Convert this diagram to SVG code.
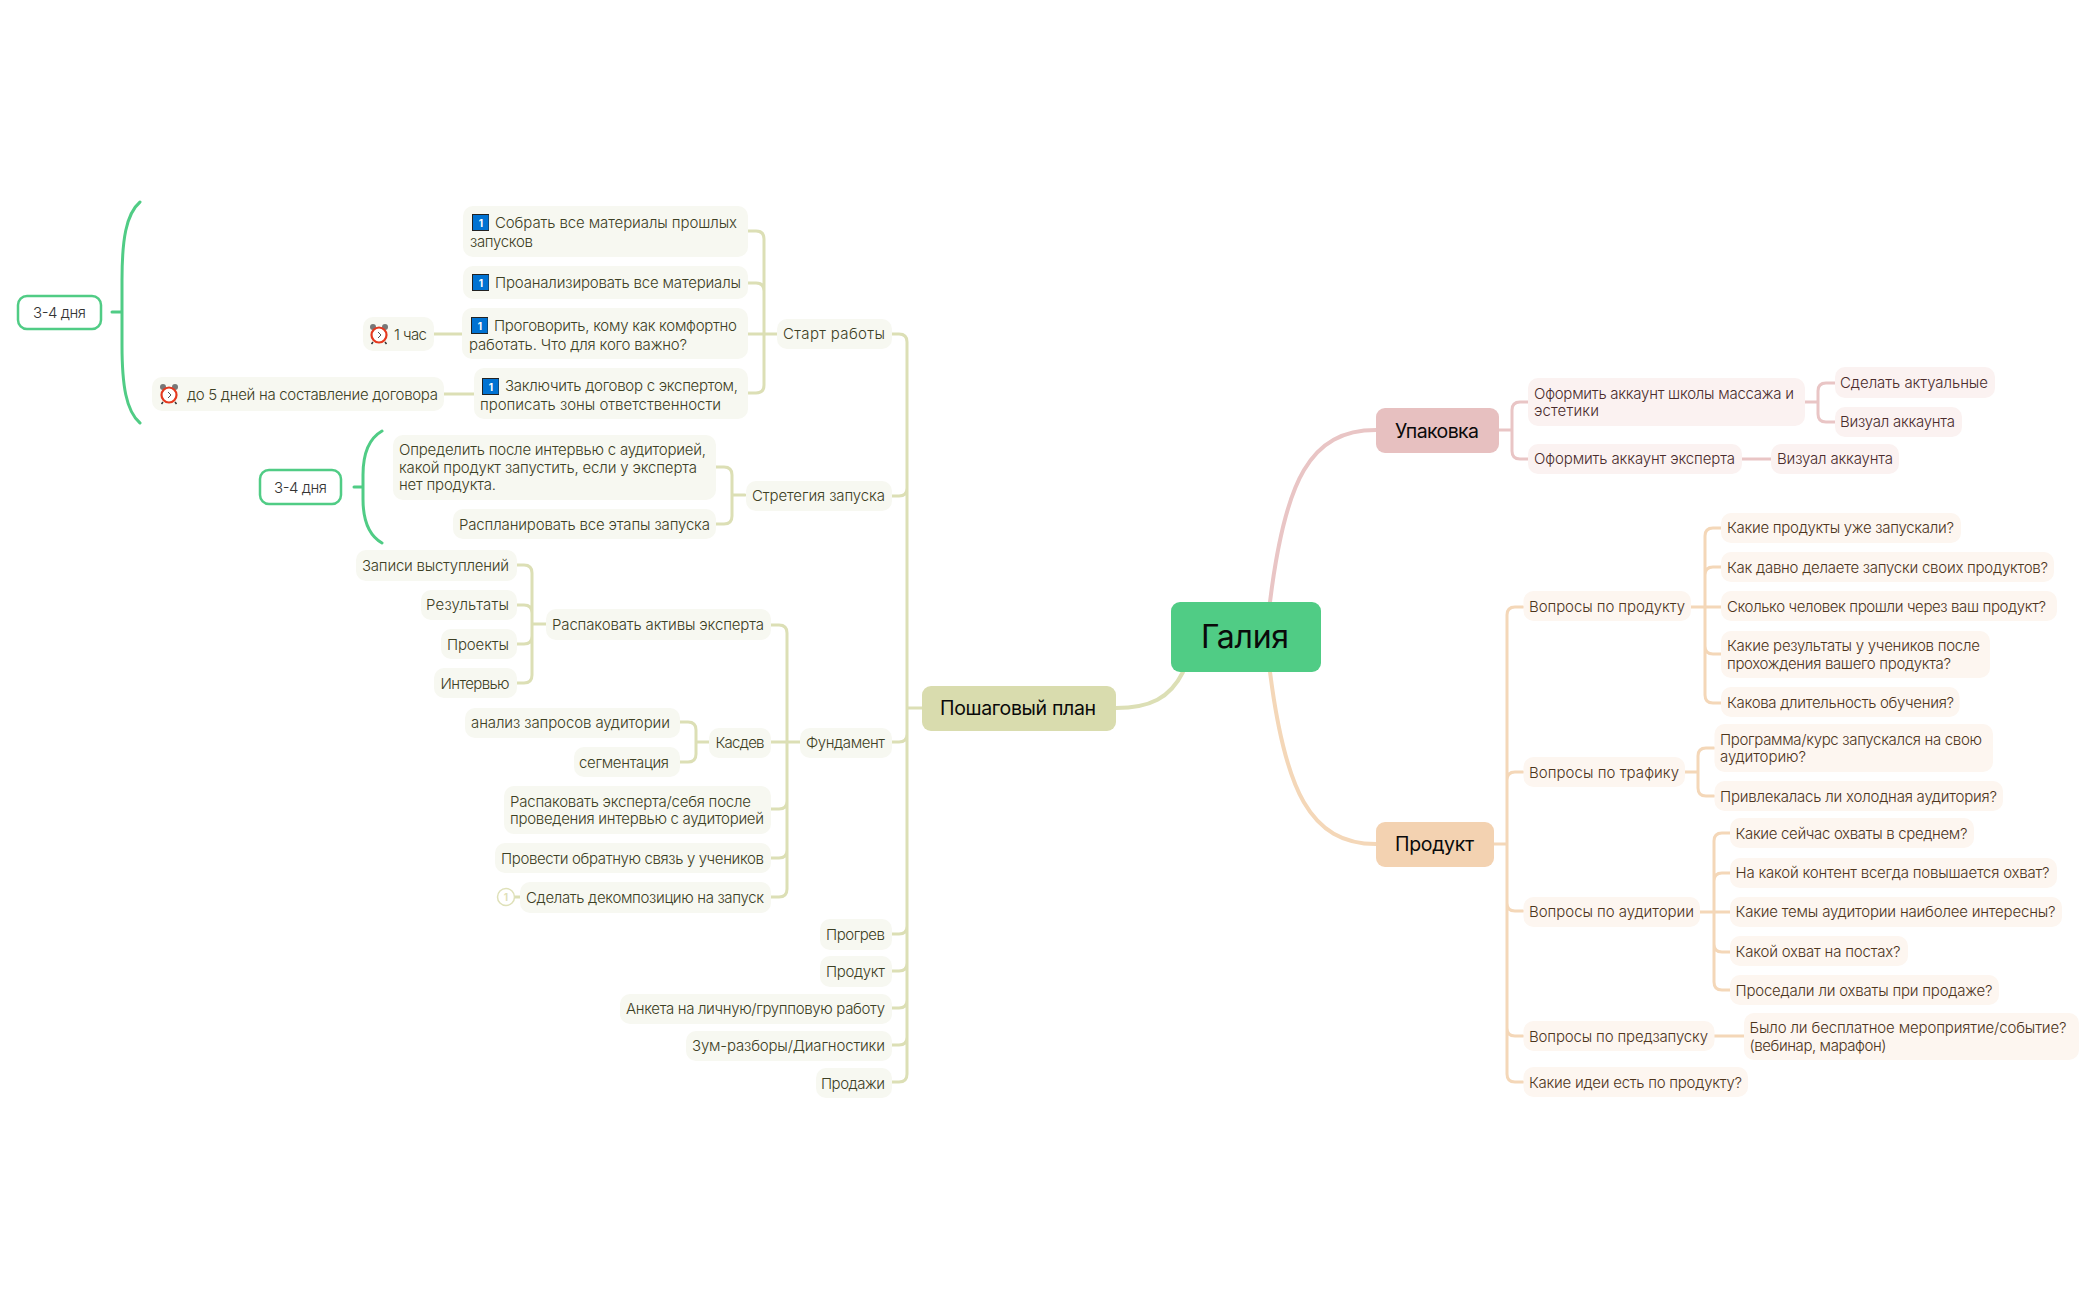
<svg xmlns="http://www.w3.org/2000/svg" width="2097" height="1300" viewBox="0 0 2097 1300">
<style>
text{font-family:Inter,"Noto Sans",sans-serif;font-size:15px;font-weight:300}
.o rect.b{fill:#f7f8f1}.o text{fill:#3d4024}
.p rect.b{fill:#fbf2f1}.p text{fill:#4a2c2c}
.y rect.b{fill:#fdf6f0}.y text{fill:#4d351c}
.c{fill:none;stroke-linecap:round}
.co{stroke:#dcdfb5;stroke-width:3}.cp{stroke:#e9c5c5;stroke-width:3}.cy{stroke:#f4d7b8;stroke-width:3}.cg{stroke:#50cc85;stroke-width:3}
.big{fill:#0a0a0a;font-size:19.500px;font-weight:400}
.bd rect{fill:#fff;stroke:#50cc85;stroke-width:2.500}.bd text{fill:#333}
.ic{fill:#fff;font-size:10px;font-weight:700;text-anchor:middle}
</style>
<defs>
<g id="blue"><rect x="0" y="0" width="17" height="17" fill="#222"/><rect x="1" y="1" width="15.500" height="15" fill="#0072d2"/></g>
<g id="clock"><circle cx="3" cy="2" r="3" fill="#777"/><circle cx="15" cy="2" r="3" fill="#777"/><path d="M3 17l-1.500 2M15 17l1.500 2" stroke="#333" stroke-width="1.500"/><circle cx="9" cy="10" r="7.500" fill="#fff" stroke="#e5391f" stroke-width="2.200"/><path d="M8 7l3 3-3 3" fill="none" stroke="#555" stroke-width="1"/></g>
</defs>
<g id="connectors">
<path class="c co" style="stroke-width:4" d="M1183 672C1170 698 1150 708 1116 708"/>
<path class="c cp" style="stroke-width:4" d="M1270 602C1285 480 1310 430 1376 430"/>
<path class="c cy" style="stroke-width:4" d="M1270 672C1285 790 1310 844 1376 844"/>
<path class="c co" d="M892 334H899Q907 334 907 342V1074Q907 1082 899 1082H892M892 496H899Q907 496 907 488M892 742H899Q907 742 907 734M892 934H899Q907 934 907 926M892 971H899Q907 971 907 963M892 1008H899Q907 1008 907 1000M892 1045H899Q907 1045 907 1037M907 708H922"/>
<path class="c co" d="M748 231H756Q764 231 764 239V385Q764 393 756 393H748M748 283H756Q764 283 764 291M748 334H777"/>
<path class="c co" d="M716 467H724Q732 467 732 475V516Q732 524 724 524H716M732 495H745"/>
<path class="c co" d="M771 625H779Q787 625 787 633V889Q787 897 779 897H771M771 742H800M771 809H779Q787 809 787 801M771 858H779Q787 858 787 850"/>
<path class="c co" d="M517 565H524Q532 565 532 573V675Q532 683 524 683H517M517 605H524Q532 605 532 613M517 644H524Q532 644 532 636M532 624H546"/>
<path class="c co" d="M680 722H688Q696 722 696 730V754Q696 762 688 762H680M696 742H709"/>
<path class="c co" d="M434 334H462M444 394H474M515 897H520"/>
<path class="c cp" d="M1528 402H1520Q1512 402 1512 410V451Q1512 459 1520 459H1528M1499 430H1512M1742 459H1771"/>
<path class="c cp" d="M1835 383H1826Q1818 383 1818 391V414Q1818 422 1826 422H1835M1805 402H1818"/>
<path class="c cy" d="M1523 607H1515Q1507 607 1507 615V1074Q1507 1082 1515 1082H1523M1494 844H1507M1523 772H1515Q1507 772 1507 780M1523 911H1515Q1507 911 1507 903M1523 1036H1515Q1507 1036 1507 1028"/>
<path class="c cy" d="M1721 528H1713Q1705 528 1705 536V695Q1705 703 1713 703H1721M1721 567H1713Q1705 567 1705 575M1691 607H1721M1721 654H1713Q1705 654 1705 646"/>
<path class="c cy" d="M1714 748H1706Q1698 748 1698 756V788Q1698 796 1706 796H1714M1685 772H1698"/>
<path class="c cy" d="M1730 833H1722Q1714 833 1714 841V982Q1714 990 1722 990H1730M1730 873H1722Q1714 873 1714 881M1700 912H1730M1730 952H1722Q1714 952 1714 944"/>
<path class="c cy" d="M1714 1036H1744"/>
<path class="c cg" d="M112 312H122M140 202C126 214 122 240 122 280V345C122 385 126 411 140 423"/>
<path class="c cg" d="M354 487H363M382 431C368 439 363 455 363 475V499C363 519 368 535 382 543"/>
</g>
<g id="root"><rect x="1171" y="602" width="150" height="70" rx="9" fill="#50cc85"/><text x="1201" y="648" textLength="88" style="font-size:32px;font-weight:400" fill="#0a0a0a">Галия</text></g>
<g id="plan"><rect x="922" y="686" width="194" height="45" rx="9" fill="#d9dcae"/><text class="big" x="940" y="715" textLength="156">Пошаговый план</text></g>
<g id="pack"><rect x="1376" y="408" width="123" height="45" rx="9" fill="#e7c0c0"/><text class="big" x="1395" y="438" textLength="84">Упаковка</text></g>
<g id="prod"><rect x="1376" y="822" width="118" height="45" rx="9" fill="#f3d2b1"/><text class="big" x="1395" y="851" textLength="79">Продукт</text></g>
<g id="a1" class="o"><rect class="b" x="463" y="206" width="285" height="51" rx="10"/><use href="#blue" x="472" y="214"/><text class="ic" x="481" y="226.500" style="fill:#fff">1</text><text x="495" y="228" textLength="242">Собрать все материалы прошлых</text><text x="470" y="247" textLength="63">запусков</text></g>
<g id="a2" class="o"><rect class="b" x="463" y="266" width="285" height="33" rx="10"/><use href="#blue" x="472" y="274"/><text class="ic" x="481" y="286.500" style="fill:#fff">1</text><text x="495" y="288" textLength="246">Проанализировать все материалы</text></g>
<g id="a3" class="o"><rect class="b" x="462" y="308" width="286" height="51" rx="10"/><use href="#blue" x="471" y="317"/><text class="ic" x="480" y="329.500" style="fill:#fff">1</text><text x="494" y="331" textLength="243">Проговорить, кому как комфортно</text><text x="469" y="350" textLength="218">работать. Что для кого важно?</text></g>
<g id="a4" class="o"><rect class="b" x="474" y="368" width="274" height="51" rx="10"/><use href="#blue" x="482" y="378"/><text class="ic" x="491" y="390.500" style="fill:#fff">1</text><text x="505" y="391" textLength="233">Заключить договор с экспертом,</text><text x="480" y="410" textLength="241">прописать зоны ответственности</text></g>
<g id="a5" class="o"><rect class="b" x="363" y="317" width="71" height="34" rx="10"/><use href="#clock" x="370" y="325"/><text x="394" y="340" textLength="33">1 час</text></g>
<g id="a6" class="o"><rect class="b" x="152" y="377" width="292" height="34" rx="10"/><use href="#clock" x="160" y="385"/><text x="187" y="400" textLength="251">до 5 дней на составление договора</text></g>
<g id="b1" class="bd"><rect x="18" y="296" width="83" height="33" rx="9"/><text x="33" y="318" textLength="53">3-4 дня</text></g>
<g id="b2" class="bd"><rect x="260" y="470" width="81" height="34" rx="9"/><text x="274" y="493" textLength="53">3-4 дня</text></g>
<g id="start" class="o"><rect class="b" x="777" y="319" width="115" height="30" rx="10"/><text x="783" y="339" textLength="102">Старт работы</text></g>
<g id="strat" class="o"><rect class="b" x="746" y="481" width="146" height="30" rx="10"/><text x="752" y="501" textLength="133">Стретегия запуска</text></g>
<g id="s1" class="o"><rect class="b" x="393" y="435" width="323" height="65" rx="10"/><text x="399" y="455" textLength="307">Определить после интервью с аудиторией,</text><text x="399" y="473" textLength="298">какой продукт запустить, если у эксперта</text><text x="399" y="490" textLength="97">нет продукта.</text></g>
<g id="s2" class="o"><rect class="b" x="453" y="509" width="263" height="30" rx="10"/><text x="459" y="530" textLength="251">Распланировать все этапы запуска</text></g>
<g id="f0" class="o"><rect class="b" x="800" y="728" width="92" height="30" rx="10"/><text x="806" y="748" textLength="79">Фундамент</text></g>
<g id="f1" class="o"><rect class="b" x="546" y="609" width="225" height="31" rx="10"/><text x="552" y="630" textLength="212">Распаковать активы эксперта</text></g>
<g id="f2" class="o"><rect class="b" x="356" y="550" width="161" height="31" rx="10"/><text x="362" y="571" textLength="147">Записи выступлений</text></g>
<g id="f3" class="o"><rect class="b" x="421" y="590" width="96" height="30" rx="10"/><text x="426" y="610" textLength="83">Результаты</text></g>
<g id="f4" class="o"><rect class="b" x="441" y="629" width="76" height="30" rx="10"/><text x="447" y="650" textLength="62">Проекты</text></g>
<g id="f5" class="o"><rect class="b" x="434" y="668" width="83" height="30" rx="10"/><text x="440.500" y="689" textLength="69">Интервью</text></g>
<g id="f6" class="o"><rect class="b" x="709" y="728" width="62" height="30" rx="10"/><text x="715.500" y="748" textLength="49">Касдев</text></g>
<g id="f7" class="o"><rect class="b" x="465" y="708" width="215" height="30" rx="10"/><text x="471" y="728" textLength="199">анализ запросов аудитории</text></g>
<g id="f8" class="o"><rect class="b" x="574" y="747" width="106" height="30" rx="10"/><text x="579" y="768" textLength="90">сегментация</text></g>
<g id="f9" class="o"><rect class="b" x="504" y="786" width="267" height="48" rx="10"/><text x="510" y="807" textLength="241">Распаковать эксперта/себя после</text><text x="510" y="824" textLength="254">проведения интервью с аудиторией</text></g>
<g id="f10" class="o"><rect class="b" x="495" y="843" width="276" height="30" rx="10"/><text x="501" y="864" textLength="263">Провести обратную связь у учеников</text></g>
<g id="f11" class="o"><rect class="b" x="520" y="882" width="251" height="31" rx="10"/><text x="526" y="903" textLength="238">Сделать декомпозицию на запуск</text></g>
<g id="f12"><circle cx="506" cy="897" r="8.500" fill="#fff" stroke="#dfe1b9" stroke-width="1.500"/><text x="506" y="901" text-anchor="middle" style="font-size:10px;font-weight:700" fill="#dfe1b9">1</text></g>
<g id="g1" class="o"><rect class="b" x="820" y="919" width="72" height="31" rx="10"/><text x="826" y="940" textLength="59">Прогрев</text></g>
<g id="g2" class="o"><rect class="b" x="820" y="956" width="72" height="31" rx="10"/><text x="826" y="977" textLength="59">Продукт</text></g>
<g id="g3" class="o"><rect class="b" x="620" y="994" width="272" height="30" rx="10"/><text x="626" y="1014" textLength="259">Анкета на личную/групповую работу</text></g>
<g id="g4" class="o"><rect class="b" x="686" y="1031" width="206" height="30" rx="10"/><text x="692" y="1051" textLength="193">Зум-разборы/Диагностики</text></g>
<g id="g5" class="o"><rect class="b" x="816" y="1068" width="76" height="30" rx="10"/><text x="821" y="1089" textLength="64">Продажи</text></g>
<g id="p1" class="p"><rect class="b" x="1528" y="378" width="277" height="48" rx="10"/><text x="1534" y="399" textLength="260">Оформить аккаунт школы массажа и</text><text x="1534" y="416" textLength="65">эстетики</text></g>
<g id="p2" class="p"><rect class="b" x="1835" y="367" width="160" height="31" rx="10"/><text x="1840" y="388" textLength="148">Сделать актуальные</text></g>
<g id="p3" class="p"><rect class="b" x="1835" y="407" width="127" height="30" rx="10"/><text x="1840" y="427" textLength="115">Визуал аккаунта</text></g>
<g id="p4" class="p"><rect class="b" x="1528" y="444" width="214" height="30" rx="10"/><text x="1534" y="464" textLength="201">Оформить аккаунт эксперта</text></g>
<g id="p5" class="p"><rect class="b" x="1771" y="444" width="128" height="30" rx="10"/><text x="1777" y="464" textLength="116">Визуал аккаунта</text></g>
<g id="q1" class="y"><rect class="b" x="1523.500" y="591" width="167.500" height="30" rx="10"/><text x="1529" y="612" textLength="156">Вопросы по продукту</text></g>
<g id="q2" class="y"><rect class="b" x="1721" y="513" width="240" height="30" rx="10"/><text x="1727" y="533" textLength="227">Какие продукты уже запускали?</text></g>
<g id="q3" class="y"><rect class="b" x="1721" y="552" width="333" height="30" rx="10"/><text x="1727" y="573" textLength="321">Как давно делаете запуски своих продуктов?</text></g>
<g id="q4" class="y"><rect class="b" x="1721" y="591" width="336" height="30" rx="10"/><text x="1727" y="612" textLength="319">Сколько человек прошли через ваш продукт?</text></g>
<g id="q5" class="y"><rect class="b" x="1721" y="631" width="269" height="47" rx="10"/><text x="1727" y="651" textLength="253">Какие результаты у учеников после</text><text x="1727" y="669" textLength="224">прохождения вашего продукта?</text></g>
<g id="q6" class="y"><rect class="b" x="1721" y="687" width="238.500" height="30" rx="10"/><text x="1727" y="708" textLength="227">Какова длительность обучения?</text></g>
<g id="r1" class="y"><rect class="b" x="1523.500" y="757" width="161.500" height="30" rx="10"/><text x="1529" y="778" textLength="150">Вопросы по трафику</text></g>
<g id="r2" class="y"><rect class="b" x="1714.500" y="724" width="278.500" height="48" rx="10"/><text x="1720" y="745" textLength="262">Программа/курс запускался на свою</text><text x="1720" y="762" textLength="86">аудиторию?</text></g>
<g id="r3" class="y"><rect class="b" x="1714.500" y="781" width="288.500" height="30" rx="10"/><text x="1720" y="802" textLength="277">Привлекалась ли холодная аудитория?</text></g>
<g id="u0" class="y"><rect class="b" x="1523.500" y="897" width="176.500" height="30" rx="10"/><text x="1529" y="917" textLength="165">Вопросы по аудитории</text></g>
<g id="u1" class="y"><rect class="b" x="1730" y="818" width="244" height="30" rx="10"/><text x="1735.500" y="839" textLength="232">Какие сейчас охваты в среднем?</text></g>
<g id="u2" class="y"><rect class="b" x="1730" y="858" width="327" height="30" rx="10"/><text x="1735.500" y="878" textLength="314">На какой контент всегда повышается охват?</text></g>
<g id="u3" class="y"><rect class="b" x="1730" y="897" width="332" height="30" rx="10"/><text x="1735.500" y="917" textLength="320">Какие темы аудитории наиболее интересны?</text></g>
<g id="u4" class="y"><rect class="b" x="1730" y="936" width="178" height="30" rx="10"/><text x="1735.500" y="957" textLength="165">Какой охват на постах?</text></g>
<g id="u5" class="y"><rect class="b" x="1730" y="975" width="269" height="30" rx="10"/><text x="1735.500" y="996" textLength="257">Проседали ли охваты при продаже?</text></g>
<g id="v0" class="y"><rect class="b" x="1523.500" y="1021" width="191" height="30" rx="10"/><text x="1529" y="1042" textLength="179">Вопросы по предзапуску</text></g>
<g id="v1" class="y"><rect class="b" x="1744" y="1013" width="335" height="47" rx="10"/><text x="1749.500" y="1033" textLength="317">Было ли бесплатное мероприятие/событие?</text><text x="1749.500" y="1051" textLength="137">(вебинар, марафон)</text></g>
<g id="w0" class="y"><rect class="b" x="1523.500" y="1067" width="224.500" height="30" rx="10"/><text x="1529" y="1088" textLength="213">Какие идеи есть по продукту?</text></g>
</svg>
